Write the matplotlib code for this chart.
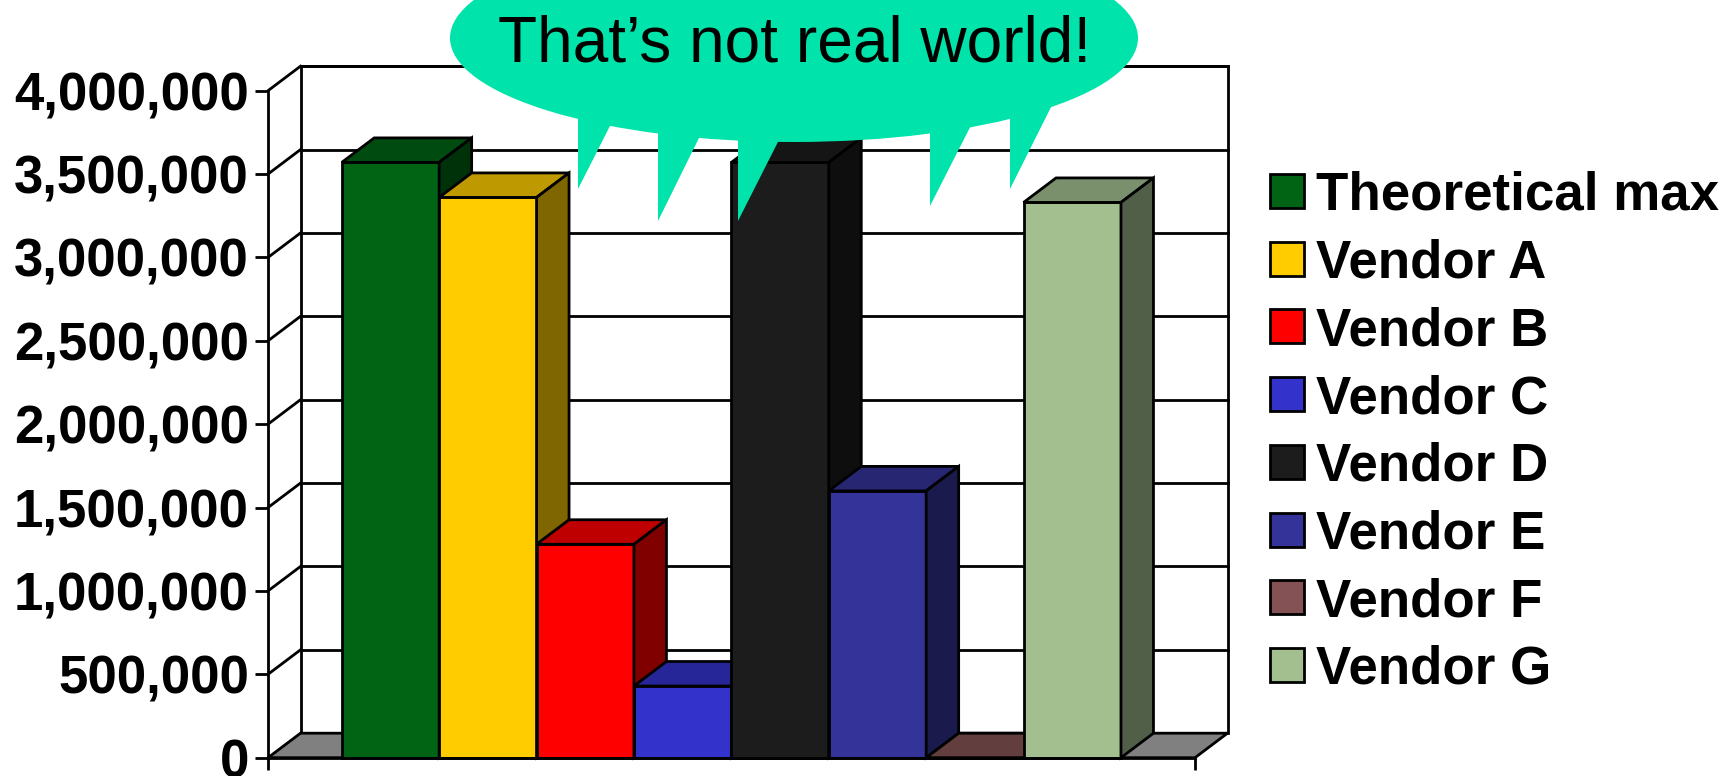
import numpy as np
import matplotlib.pyplot as plt
from matplotlib.patches import Polygon, Rectangle, Ellipse
from matplotlib.colors import to_rgb

# throughput per vendor
vendors = ['Theoretical max', 'Vendor A', 'Vendor B', 'Vendor C',
           'Vendor D', 'Vendor E', 'Vendor F', 'Vendor G']
throughput = [3570000, 3360000, 1280000, 430000, 3570000, 1600000, 0, 3330000]
colors = ['#006414', '#FFCC00', '#FF0000', '#3333CC',
          '#1C1C1C', '#333399', '#845254', '#A3BE8F']
y_ticks = np.arange(0, 4000001, 500000)
callout = 'That\u2019s not real world!'

plt.rcParams['font.family'] = ['Liberation Sans', 'DejaVu Sans']

W, H = 1736, 776
fig = plt.figure(figsize=(W / 100, H / 100), dpi=100)
fig.patch.set_facecolor('white')

# front plane of the plot box, in pixels
ax = fig.add_axes([268 / W, (H - 757.7) / H, 927 / W, 667 / H])
ax.patch.set_visible(False)
x = np.arange(len(vendors))
xlo, xhi = -1.257, len(vendors) - 0.5 + 0.76
ymax = 4000000
ax.set_xlim(xlo, xhi)
ax.set_ylim(0, ymax)

# depth of the fake 3d box, converted from pixels to data units
ddx = 32.5 / (927 / (xhi - xlo))
ddy = 24.5 / (667 / ymax)
LW = 2.0

def shade(c, k):
    return tuple(v * k for v in to_rgb(c))

def poly(pts, fc, z):
    ax.add_patch(Polygon(pts, closed=True, fc=fc, ec='black', lw=LW,
                         joinstyle='miter', clip_on=False, zorder=z))

# back wall and left wall
poly([(xlo + ddx, ddy), (xhi + ddx, ddy), (xhi + ddx, ymax + ddy),
      (xlo + ddx, ymax + ddy)], 'white', 0.5)
for v in y_ticks[1:]:
    ax.plot([xlo + ddx, xhi + ddx], [v + ddy, v + ddy], color='black', lw=LW,
            clip_on=False, zorder=0.6)
    ax.plot([xlo, xlo + ddx], [v, v + ddy], color='black', lw=LW,
            clip_on=False, zorder=0.6)

# floor
poly([(xlo, 0), (xhi, 0), (xhi + ddx, ddy), (xlo + ddx, ddy)], '#808080', 1)

# columns, drawn left to right so later fronts cover earlier sides
bars = ax.bar(x, throughput, width=1.0, color=colors, edgecolor='black',
              linewidth=LW, clip_on=False)
for i, (rect, h, c) in enumerate(zip(bars, throughput, colors)):
    z = 2 + 0.1 * i
    rect.set_zorder(z)
    l, r = x[i] - 0.5, x[i] + 0.5
    poly([(l, h), (r, h), (r + ddx, h + ddy), (l + ddx, h + ddy)],
         shade(c, 0.75), z + 0.05)
    poly([(r, 0), (r + ddx, ddy), (r + ddx, h + ddy), (r, h)],
         shade(c, 0.5), z + 0.05)

for s in ['top', 'right']:
    ax.spines[s].set_visible(False)
for s in ['left', 'bottom']:
    ax.spines[s].set_linewidth(LW)
    ax.spines[s].set_zorder(10)

ax.set_yticks(y_ticks, labels=[f'{v:,}' for v in y_ticks],
              fontsize=38, fontweight='bold')
ax.tick_params(axis='y', length=9.4, width=LW, pad=4.3)
ax.set_xticks([xlo, xhi], labels=['', ''])
ax.tick_params(axis='x', length=8.6, width=LW)

# overlay in pixel coordinates for legend and speech bubble
ov = fig.add_axes([0, 0, 1, 1])
ov.set_xlim(0, W)
ov.set_ylim(H, 0)
ov.axis('off')
ov.set_zorder(ax.get_zorder() + 1)

for i, (name, c) in enumerate(zip(vendors, colors)):
    cy = 191 + 67.7 * i
    ov.add_patch(Rectangle((1269.5, cy - 17), 34, 34, fc=c, ec='black', lw=LW))
    ov.text(1316, cy + 19, name, fontsize=38.1, fontweight='bold',
            ha='left', va='baseline')

bubble = '#00E3AA'
ecx, ecy, erx, ery = 794, 38, 344, 104

def edge_y(px):
    return ecy + ery * np.sqrt(1 - ((px - ecx) / erx) ** 2)

# spikes hanging under the bubble: tip and right base x
spikes = [(578, 189, 610), (658, 221, 699), (738, 221, 778),
          (930, 206, 970), (1010, 189, 1051)]
ov.add_patch(Ellipse((ecx, ecy), 2 * erx, 2 * ery, fc=bubble, ec='none'))
for tx, ty, bx in spikes:
    by = edge_y(bx)
    ext = (bx + (bx - tx) * 0.3, by + (by - ty) * 0.3)
    ov.add_patch(Polygon([(tx, edge_y(tx) - 25), (tx, ty), ext, (bx, by - 25)],
                         closed=True, fc=bubble, ec='none'))
ov.text(795, 62, callout, fontsize=46.1, ha='center', va='baseline')

fig.savefig('out.png', dpi=100)
